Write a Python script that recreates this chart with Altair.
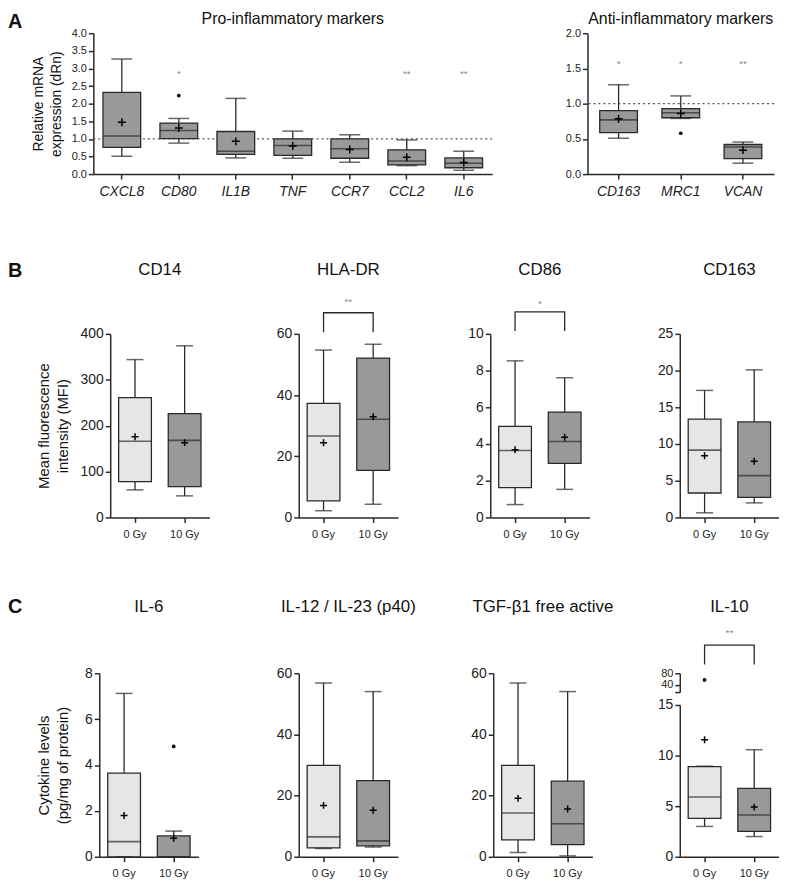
import altair as alt
import pandas as pd

FONT = "Liberation Sans"
INK = "#2a2a2a"
LIGHT = "#e6e6e6"
MID = "#999999"
STAR = "#8c8c8c"
PLUS = "M-1,0H1M0,-1V1"

# ---------------- Panel A : relative mRNA expression ----------------
PRO_GENES = ["CXCL8", "CD80", "IL1B", "TNF", "CCR7", "CCL2", "IL6"]
PRO_WLO = [0.51, 0.88, 0.46, 0.45, 0.34, 0.24, 0.11]
PRO_Q1 = [0.76, 1.01, 0.56, 0.53, 0.45, 0.26, 0.18]
PRO_MED = [1.08, 1.24, 0.65, 0.81, 0.72, 0.37, 0.31]
PRO_Q3 = [2.32, 1.45, 1.21, 1.00, 1.00, 0.69, 0.46]
PRO_WHI = [3.27, 1.58, 2.15, 1.22, 1.12, 0.97, 0.65]
PRO_MEAN = [1.47, 1.31, 0.93, 0.80, 0.70, 0.48, 0.33]
PRO_OUT_GENE = ["CD80"]
PRO_OUT_VAL = [2.23]
PRO_STAR_GENE = ["CD80", "CCL2", "IL6"]
PRO_STAR_TEXT = ["*", "**", "**"]
PRO_STAR_Y = [2.85, 2.85, 2.85]

ANTI_GENES = ["CD163", "MRC1", "VCAN"]
ANTI_WLO = [0.51, 0.79, 0.155]
ANTI_Q1 = [0.59, 0.80, 0.22]
ANTI_MED = [0.77, 0.87, 0.385]
ANTI_Q3 = [0.90, 0.93, 0.42]
ANTI_WHI = [1.27, 1.11, 0.455]
ANTI_MEAN = [0.785, 0.86, 0.34]
ANTI_OUT_GENE = ["MRC1"]
ANTI_OUT_VAL = [0.58]
ANTI_STAR_TEXT = ["*", "*", "**"]
ANTI_STAR_Y = [1.56, 1.56, 1.56]
REF_LEVEL = [1.0]

# ---------------- Panel B : flow cytometry MFI ----------------
GROUPS = ["0 Gy", "10 Gy"]
GROUP_FILLS = [LIGHT, MID]
B_TITLES = ["CD14", "HLA-DR", "CD86", "CD163"]
B_WLO = [[60, 47], [2.2, 4.3], [0.70, 1.53], [0.63, 1.98]]
B_Q1 = [[78, 67], [5.4, 15.4], [1.62, 2.95], [3.33, 2.74]]
B_MED = [[166, 168], [26.6, 32.1], [3.65, 4.14], [9.17, 5.7]]
B_Q3 = [[261, 226], [37.3, 52.1], [4.96, 5.74], [13.4, 13.0]]
B_WHI = [[344, 374], [54.7, 56.6], [8.53, 7.61], [17.3, 20.1]]
B_MEAN = [[176, 163], [24.4, 32.9], [3.69, 4.37], [8.4, 7.64]]
B_YMAX = [400, 60, 10, 25]
B_YSTEP = [100, 20, 2, 5]
B_BRACKET = [[], [60.5, 66.9, 70.3], [10.15, 11.2, 11.65], []]  # leg end, bar, star
B_STARS = ["", "**", "*", ""]

# ---------------- Panel C : cytokine levels ----------------
C_TITLES = ["IL-6", "IL-12 / IL-23 (p40)", "TGF-\u03b21 free active", "IL-10"]
C_WLO = [[0.0, 0.0], [2.7, 3.2], [1.4, 0.3], [3.0, 2.0]]
C_Q1 = [[0.0, 0.0], [2.9, 3.6], [5.5, 4.0], [3.8, 2.52]]
C_MED = [[0.66, 0.0], [6.5, 5.2], [14.3, 10.8], [5.9, 4.13]]
C_Q3 = [[3.65, 0.91], [29.9, 24.9], [29.9, 24.7], [8.9, 6.75]]
C_WHI = [[7.12, 1.12], [56.8, 54.0], [56.8, 54.0], [8.95, 10.58]]
C_MEAN = [[1.8, 0.81], [16.8, 15.2], [19.1, 15.6], [11.56, 4.91]]
C_YMAX = [8, 60, 60, 15]
C_YSTEP = [2, 20, 20, 5]
IL6_OUT_GROUP = ["10 Gy"]
IL6_OUT_VAL = [4.81]
IL10_UPPER_DOMAIN = [15, 80]
IL10_UPPER_TICKS = [15, 40, 80]
IL10_OUT_GROUP = ["0 Gy"]
IL10_OUT_VAL = [57.0]
IL10_BRACKET = [110, 177, 218]
IL10_STAR = "**"


def ticks(vmax, step):
    n = int(round(vmax / step))
    return [round(i * step, 6) for i in range(n + 1)]


def y_axis(values, title=None, size=14, fmt=None, **kw):
    a = dict(values=values, title=title, tickSize=5, labelFontSize=size, labelPadding=2,
             titleFontSize=15, titlePadding=10, titleLineHeight=19)
    if fmt:
        a["format"] = fmt
    a.update(kw)
    return alt.Axis(**a)


def box_layers(cats, wlo, q1, med, q3, whi, mean, fills, width, box_w, cap_w,
               yscale, yaxis, xaxis, plus=49):
    step = width / len(cats)
    pin = 1 - box_w / step
    xs = alt.Scale(domain=cats, paddingInner=pin, paddingOuter=pin / 2)
    X = alt.X("cat:N", scale=xs, axis=xaxis, sort=cats)
    df = pd.DataFrame(dict(cat=cats, wlo=wlo, q1=q1, med=med, q3=q3, whi=whi,
                           mean=mean, fill=fills))
    base = alt.Chart(df)

    def Y(f):
        return alt.Y(f + ":Q", scale=yscale, axis=yaxis)

    layers = [
        base.mark_rule(color=INK, strokeWidth=1.3).encode(x=X, y=Y("wlo"), y2="whi:Q"),
        base.mark_bar(stroke=INK, strokeWidth=1.3).encode(
            x=X, y=Y("q1"), y2="q3:Q", fill=alt.Fill("fill:N", scale=None)),
        base.mark_tick(orient="horizontal", size=box_w, thickness=1.6, color=INK).encode(x=X, y=Y("med")),
        base.mark_tick(orient="horizontal", size=cap_w, thickness=1.5, color=INK).encode(x=X, y=Y("wlo")),
        base.mark_tick(orient="horizontal", size=cap_w, thickness=1.5, color=INK).encode(x=X, y=Y("whi")),
        base.mark_point(shape=PLUS, size=plus, filled=False, stroke="black",
                        strokeWidth=1.5, opacity=1).encode(x=X, y=Y("mean")),
    ]
    return layers, X, Y


def text_layer(txt, x, y, size, weight="normal", align="center"):
    return alt.Chart(pd.DataFrame({"t": [txt]})).mark_text(
        font=FONT, fontSize=size, fontWeight=weight, align=align, baseline="alphabetic",
        color="#111111").encode(text="t:N", x=alt.value(x), y=alt.value(y))


def outlier_layer(X, Y, groups, vals):
    return alt.Chart(pd.DataFrame({"cat": groups, "v": vals})).mark_circle(
        size=14, color="black", opacity=1).encode(x=X, y=Y("v"))


def bracket_layers(X, Y, width, leg, top, star_y, star):
    dfb = pd.DataFrame({"cat": ["0 Gy", "0 Gy", "10 Gy", "10 Gy"],
                        "v": [leg, top, top, leg], "o": [0, 1, 2, 3]})
    line = alt.Chart(dfb).mark_line(color=INK, strokeWidth=1.3).encode(
        x=X, y=Y("v"), order="o:Q")
    st = alt.Chart(pd.DataFrame({"v": [star_y], "s": [star]})).mark_text(
        font=FONT, fontSize=10, color=STAR, baseline="middle").encode(
        x=alt.value(width / 2), y=Y("v"), text="s:N")
    return [line, st]


def spacer(w, h):
    return alt.Chart(pd.DataFrame({"s": [0]})).mark_point(opacity=0).properties(width=w, height=h)


# ---------------- Row A ----------------
A_H = 142
A_LW = 402
A_RW = 188

xa = alt.Axis(title=None, labelAngle=0, labelFontSize=14, labelFontStyle="italic",
              tickSize=5, labelPadding=6)
ysA = alt.Scale(domain=[0, 4], nice=False)
yaA = y_axis(ticks(4, 0.5), title=["Relative mRNA", "expression (dRn)"], size=11, fmt=".1f",
             titleFontSize=14, titleLineHeight=18, titlePadding=8)
layA, XA, YA = box_layers(PRO_GENES, PRO_WLO, PRO_Q1, PRO_MED, PRO_Q3, PRO_WHI, PRO_MEAN,
                          [MID] * len(PRO_GENES), A_LW, 38, 21, ysA, yaA, xa, plus=64)
refA = alt.Chart(pd.DataFrame({"r": REF_LEVEL})).mark_rule(
    strokeDash=[2, 3], color="#555555", strokeWidth=1.2).encode(y=YA("r"))
starsA = alt.Chart(pd.DataFrame({"cat": PRO_STAR_GENE, "v": PRO_STAR_Y, "s": PRO_STAR_TEXT})).mark_text(
    font=FONT, fontSize=10, color=STAR, baseline="middle").encode(x=XA, y=YA("v"), text="s:N")
a_left = alt.layer(refA, *layA, outlier_layer(XA, YA, PRO_OUT_GENE, PRO_OUT_VAL), starsA,
                   text_layer("Pro-inflammatory markers", A_LW / 2, -9, 16),
                   text_layer("A", -86, -5, 20, "bold", "left")).properties(width=A_LW, height=A_H)

ysA2 = alt.Scale(domain=[0, 2], nice=False)
yaA2 = y_axis(ticks(2, 0.5), size=11, fmt=".1f")
layA2, XA2, YA2 = box_layers(ANTI_GENES, ANTI_WLO, ANTI_Q1, ANTI_MED, ANTI_Q3, ANTI_WHI, ANTI_MEAN,
                             [MID] * len(ANTI_GENES), A_RW, 38, 21, ysA2, yaA2, xa, plus=64)
refA2 = alt.Chart(pd.DataFrame({"r": REF_LEVEL})).mark_rule(
    strokeDash=[2, 3], color="#555555", strokeWidth=1.2).encode(y=YA2("r"))
starsA2 = alt.Chart(pd.DataFrame({"cat": ANTI_GENES, "v": ANTI_STAR_Y, "s": ANTI_STAR_TEXT})).mark_text(
    font=FONT, fontSize=10, color=STAR, baseline="middle").encode(x=XA2, y=YA2("v"), text="s:N")
a_right = alt.layer(refA2, *layA2, outlier_layer(XA2, YA2, ANTI_OUT_GENE, ANTI_OUT_VAL), starsA2,
                    text_layer("Anti-inflammatory markers", A_RW / 2, -9, 16)).properties(width=A_RW, height=A_H)

rowA = alt.hconcat(a_left, spacer(96, A_H), a_right, spacing=0, bounds="flush")

# ---------------- Row B ----------------
P_W = 100
P_H = 185
xg = alt.Axis(title=None, labelAngle=0, labelFontSize=11, tickSize=5, labelPadding=6)

b_charts = []
for i, t in enumerate(B_TITLES):
    ys = alt.Scale(domain=[0, B_YMAX[i]], nice=False)
    ya = y_axis(ticks(B_YMAX[i], B_YSTEP[i]),
                title=["Mean fluorescence", "intensity (MFI)"] if i == 0 else None)
    lay, X, Y = box_layers(GROUPS, B_WLO[i], B_Q1[i], B_MED[i], B_Q3[i], B_WHI[i], B_MEAN[i],
                           GROUP_FILLS, P_W, 33, 17, ys, ya, xg)
    extra = [text_layer(t, P_W / 2, -59, 17)]
    if B_BRACKET[i]:
        extra += bracket_layers(X, Y, P_W, B_BRACKET[i][0], B_BRACKET[i][1], B_BRACKET[i][2], B_STARS[i])
    if i == 0:
        extra.append(text_layer("B", -103, -57, 20, "bold", "left"))
    b_charts.append(alt.layer(*lay, *extra).properties(width=P_W, height=P_H))

rowB = alt.hconcat(spacer(17, P_H), b_charts[0], spacer(90, P_H), b_charts[1], spacer(93, P_H),
                   b_charts[2], spacer(91, P_H), b_charts[3], spacing=0, bounds="flush")

# ---------------- Row C ----------------
c_charts = []
for i, t in enumerate(C_TITLES):
    if i == 3:
        ys = alt.Scale(domain=[0, C_YMAX[i]], range=[P_H, 32], nice=False)
    else:
        ys = alt.Scale(domain=[0, C_YMAX[i]], nice=False)
    ya = y_axis(ticks(C_YMAX[i], C_YSTEP[i]),
                title=["Cytokine levels", "(pg/mg of protein)"] if i == 0 else None,
                titlePadding=14)
    lay, X, Y = box_layers(GROUPS, C_WLO[i], C_Q1[i], C_MED[i], C_Q3[i], C_WHI[i], C_MEAN[i],
                           GROUP_FILLS, P_W, 33, 17, ys, ya, xg)
    extra = [text_layer(t, P_W / 2, -62, 17)]
    if i == 0:
        extra.append(outlier_layer(X, Y, IL6_OUT_GROUP, IL6_OUT_VAL))
        extra.append(text_layer("C", -92, -61, 20, "bold", "left"))
    if i == 3:
        lower = alt.layer(*lay, *extra)
        ysu = alt.Scale(domain=IL10_UPPER_DOMAIN, range=[19, 0], nice=False)
        yau = y_axis(IL10_UPPER_TICKS, size=11, orient="left", labelOverlap=False,
                     labelExpr="datum.value == 15 ? '' : datum.label")

        def YU(f):
            return alt.Y(f + ":Q", scale=ysu, axis=yau)
        upper = alt.layer(outlier_layer(X, YU, IL10_OUT_GROUP, IL10_OUT_VAL),
                          *bracket_layers(X, YU, P_W, IL10_BRACKET[0], IL10_BRACKET[1],
                                          IL10_BRACKET[2], IL10_STAR))
        ch = alt.layer(lower, upper).resolve_scale(y="independent").properties(width=P_W, height=P_H)
    else:
        ch = alt.layer(*lay, *extra).properties(width=P_W, height=P_H)
    c_charts.append(ch)

rowC = alt.hconcat(spacer(6, P_H), c_charts[0], spacer(101, P_H), c_charts[1], spacer(96, P_H),
                   c_charts[2], spacer(88, P_H), c_charts[3], spacing=0, bounds="flush")

chart = alt.vconcat(rowA, alt.vconcat(rowB, rowC, spacing=58), spacing=63).properties(
    padding={"top": 0, "left": 0, "right": 0, "bottom": 0}
).configure_view(strokeWidth=0).configure_axis(
    grid=False, domainColor=INK, domainWidth=1.5, tickColor=INK, tickWidth=1.5,
    labelColor="#222222", titleColor="#111111", labelFont=FONT, titleFont=FONT,
    titleFontWeight="normal"
)

chart.save("out.html", embed_options={"renderer": "svg", "actions": False})
